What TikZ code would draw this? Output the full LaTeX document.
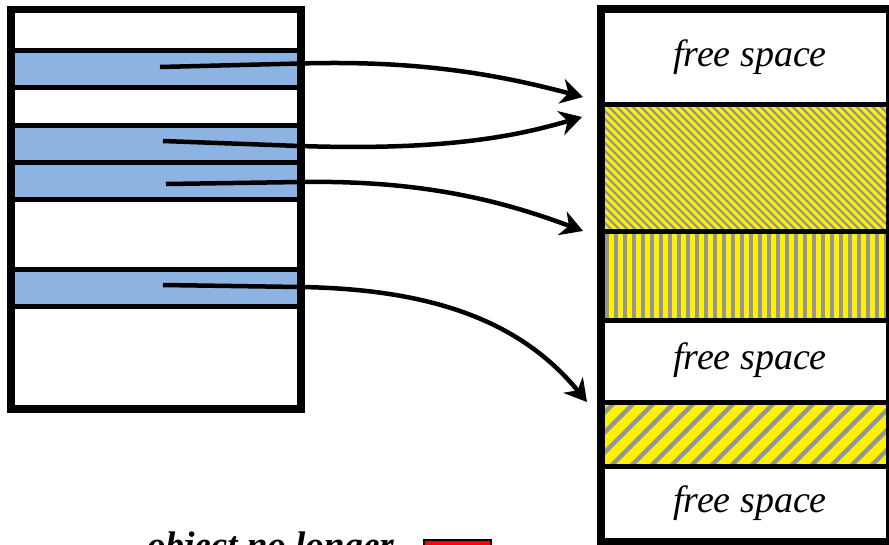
\documentclass[tikz,border=0pt]{standalone}
\usepackage{fontspec}
\setmainfont{Liberation Serif}
\usetikzlibrary{arrows.meta}
\definecolor{bandblue}{RGB}{141,179,226}
\definecolor{hatchgray}{RGB}{150,150,150}
\begin{document}
\begin{tikzpicture}[x=1pt,y=-1pt,
  box/.style={draw=black,line width=7.5pt},
  sep/.style={draw=black,line width=5pt},
  ptr/.style={line width=4.5pt,-{Stealth[length=22pt,width=25pt,inset=7pt]}},
  freetxt/.style={font=\fontsize{38}{40}\selectfont\itshape,anchor=base,inner sep=0pt},
  grayline/.style={draw=hatchgray}]
\useasboundingbox (0,0) rectangle (889,544);
\fill[white] (0,0) rectangle (889,544);
% ---------- left box ----------
\fill[white] (11,9.5) rectangle (301,409);
\foreach \a/\b in {50.5/87.5,125/162.5,162.5/199.5,269.5/306.5}{
  \fill[bandblue] (15,\a) rectangle (301,\b);
}
\foreach \y in {50.5,87.5,125,162.5,199.5,269.5,306.5}{
  \draw[sep] (11,\y) -- (301,\y);
}
\draw[box] (11,9.5) rectangle (301,409);
% ---------- right box ----------
\fill[white] (601,9) rectangle (890,542);
\begin{scope}
  \clip (601,104.5) rectangle (890,231);
  \fill[yellow] (601,104.5) rectangle (890,231);
  \foreach \x in {470,478,...,900}{
    \draw[grayline,line width=2.2pt] (\x,104) -- (\x+128,232);
  }
\end{scope}
\begin{scope}
  \clip (601,231) rectangle (890,320.5);
  \fill[yellow] (601,231) rectangle (890,320.5);
  \foreach \x in {607,616,...,895}{
    \draw[grayline,line width=3.8pt] (\x,231) -- (\x,321);
  }
\end{scope}
\begin{scope}
  \clip (601,402.5) rectangle (890,466.5);
  \fill[yellow] (601,402.5) rectangle (890,466.5);
  \foreach \x in {530,550,...,910}{
    \draw[grayline,line width=4.5pt] (\x,467) -- (\x+65,402);
  }
\end{scope}
\foreach \y in {104.5,231,320.5,402.5,466.5}{
  \draw[sep] (601,\y) -- (890,\y);
}
\draw[box] (601,9) rectangle (890,542);
% ---------- texts ----------
\node[freetxt] (f1) at (750,66) {free space};
\node[freetxt] (f2) at (750,369) {free space};
\node[freetxt] (f3) at (750,512) {free space};
\node[font=\fontsize{37}{40}\selectfont\bfseries\itshape,anchor=base west,inner sep=0pt] (obj) at (147,557) {object no longer};
\node[draw=black,fill=red,line width=1.5pt,minimum width=67pt,minimum height=40pt,anchor=north west,inner sep=0pt] (legend) at (423,539) {};
% ---------- pointers ----------
\coordinate (s1) at (160,67);  \coordinate (m1) at (300,63.5); \coordinate (e1) at (583,97);
\coordinate (s2) at (163,141); \coordinate (m2) at (300,146);  \coordinate (e2) at (582,117);
\coordinate (s3) at (166,184); \coordinate (m3) at (300,182);  \coordinate (e3) at (583,231);
\coordinate (s4) at (163,285); \coordinate (m4) at (300,287);  \coordinate (e4) at (587,402);
\draw[ptr] (s1) -- (m1) .. controls (420,60) and (500,75) .. (e1);
\draw[ptr] (s2) -- (m2) .. controls (450,151) and (520,135) .. (e2);
\draw[ptr] (s3) -- (m3) .. controls (420,180) and (500,200) .. (e3);
\draw[ptr] (s4) -- (m4) .. controls (430,289) and (520,320) .. (e4);
\end{tikzpicture}
\end{document}
